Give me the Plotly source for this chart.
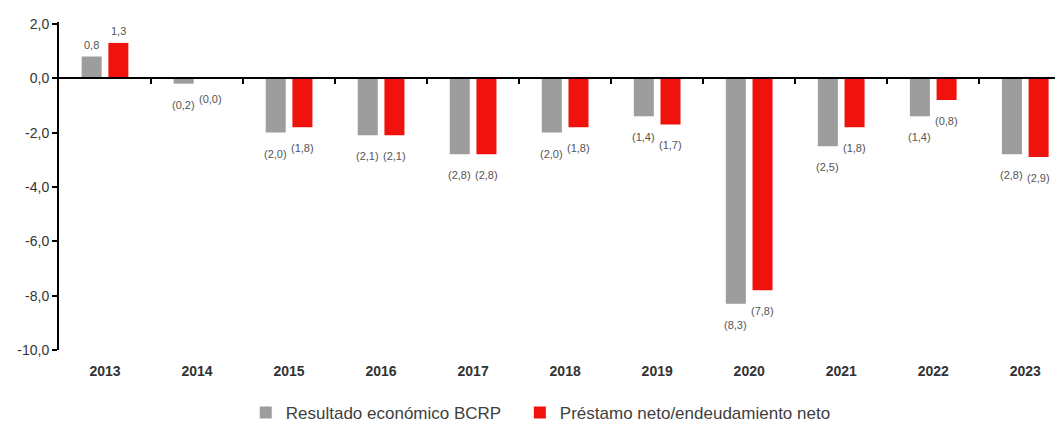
import plotly.graph_objects as go

years = ["2013", "2014", "2015", "2016", "2017", "2018", "2019", "2020", "2021", "2022", "2023"]
resultado_bcrp = [0.8, -0.2, -2.0, -2.1, -2.8, -2.0, -1.4, -8.3, -2.5, -1.4, -2.8]
prestamo_neto = [1.3, 0.0, -1.8, -2.1, -2.8, -1.8, -1.7, -7.8, -1.8, -0.8, -2.9]
series_names = ["Resultado económico BCRP", "Préstamo neto/endeudamiento neto"]
y_ticks = [2, 0, -2, -4, -6, -8, -10]
y_tick_labels = ["2,0", "0,0", "-2,0", "-4,0", "-6,0", "-8,0", "-10,0"]
boundaries = [i + 0.5 for i in range(len(years) - 1)]

GRAY = "#9d9d9d"
RED = "#f0120c"
FONT = "Liberation Sans, Arial, sans-serif"

W, H = 1063, 422
ML, MR, MT, MB = 51, 8, 14, 80
Y_MIN, Y_MAX = -10, 2.07
X_RANGE = [-0.5, 10.41]
BARGAP, GROUPGAP = 0.42, 0.25
bar_off = (1 - BARGAP) / 4  # offset of each bar from category centre, in category units


def fmt(v):
    s = f"{abs(v):.1f}".replace(".", ",")
    return s if v > 0 else f"({s})"


fig = go.Figure()
for name, vals, col, lg in [(series_names[0], resultado_bcrp, GRAY, "legend"),
                            (series_names[1], prestamo_neto, RED, "legend2")]:
    fig.add_trace(go.Bar(
        x=years, y=vals, name=name, marker=dict(color=col, line=dict(width=0)),
        legend=lg,
    ))

for vals, sign in [(resultado_bcrp, -1), (prestamo_neto, 1)]:
    for i, v in enumerate(vals):
        fig.add_annotation(
            xref="x", yref="y", x=i + sign * bar_off, y=v, text=fmt(v), showarrow=False,
            yshift=12 if v > 0 else -21, yanchor="middle", xanchor="center",
            font=dict(family=FONT, size=11, color="#555555"),
        )

# helper trace for the axis drawn at zero
fig.add_trace(go.Scatter(x=[0], y=[None], xaxis="x2", yaxis="y", showlegend=False,
                         hoverinfo="skip", mode="markers"))

legend_common = dict(orientation="h", xanchor="left", y=-0.192, yanchor="middle",
                     font=dict(family=FONT, size=17, color="#404040"), itemwidth=30,
                     bgcolor="rgba(0,0,0,0)")

fig.update_layout(
    width=W, height=H,
    margin=dict(l=ML, r=MR, t=MT, b=MB, autoexpand=False),
    paper_bgcolor="white", plot_bgcolor="white",
    barmode="group", bargap=BARGAP, bargroupgap=GROUPGAP,
    font=dict(family=FONT, color="#333333"),
    xaxis=dict(
        type="category", range=X_RANGE, showline=False, showgrid=False,
        zeroline=False, ticks="", ticklabelstandoff=11,
        tickfont=dict(family=FONT, size=14, color="#333333", weight="bold"),
    ),
    xaxis2=dict(
        overlaying="x", anchor="free", position=(0 - Y_MIN) / (Y_MAX - Y_MIN), range=X_RANGE,
        showline=True, linecolor="black", linewidth=2, showgrid=False, zeroline=False,
        tickmode="array", tickvals=boundaries, ticks="outside", ticklen=5, tickwidth=2,
        tickcolor="black", showticklabels=False,
    ),
    yaxis=dict(
        range=[Y_MIN, Y_MAX], tickmode="array", tickvals=y_ticks, ticktext=y_tick_labels,
        showgrid=False, zeroline=False, showline=True, linecolor="black", linewidth=2,
        ticks="outside", ticklen=5, tickwidth=2, tickcolor="black",
        tickfont=dict(family=FONT, size=14, color="#333333"),
    ),
    legend=dict(x=0.186, **legend_common),
    legend2=dict(x=0.459, **legend_common),
)

fig.write_html("out.html")
